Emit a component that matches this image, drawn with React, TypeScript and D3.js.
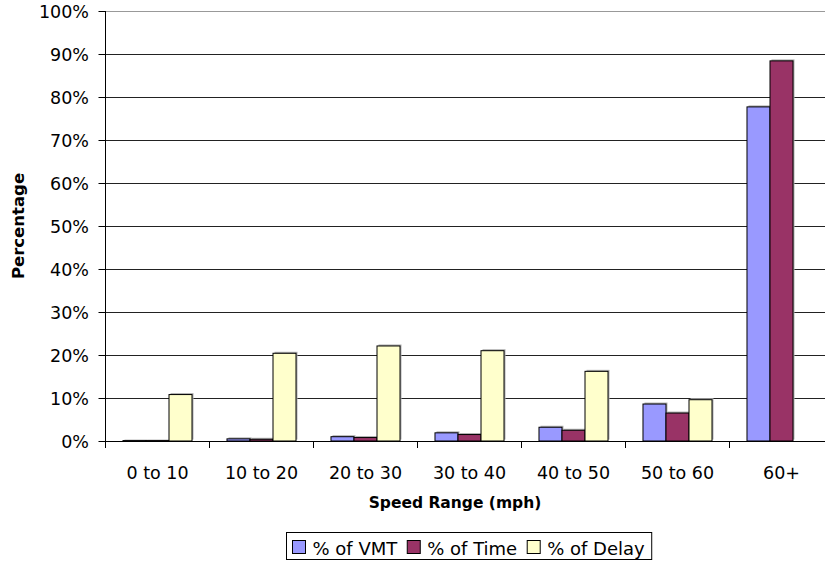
import React, { useEffect, useRef } from "react";
import * as d3 from "d3";

const categories = ["0 to 10", "10 to 20", "20 to 30", "30 to 40", "40 to 50", "50 to 60", "60+"];
const seriesNames = ["% of VMT", "% of Time", "% of Delay"];
const vmt = [0.1, 0.5, 1.0, 1.9, 3.2, 8.6, 77.7];
const time = [0.1, 0.4, 0.8, 1.5, 2.5, 6.5, 88.4];
const delay = [10.8, 20.4, 22.1, 21.0, 16.2, 9.6, 0];
const yTicks = [0, 10, 20, 30, 40, 50, 60, 70, 80, 90, 100];
const colors = ["#9999FF", "#993366", "#FFFFCC"];

const W = 825;
const H = 562;
const FONT = "'DejaVu Sans', Verdana, sans-serif";

export default function App() {
  const ref = useRef<SVGSVGElement>(null);

  useEffect(() => {
    const svg = d3.select(ref.current);
    svg.selectAll("*").remove();

    const left = 105.5;
    const right = 833.5;
    const top = 11;
    const bottom = 441;

    const x = d3.scaleBand<string>().domain(categories).range([left, right]).paddingInner(0).paddingOuter(0);
    const xs = d3.scaleBand<number>().domain([0, 1, 2]).range([0, x.bandwidth()]).paddingOuter(0.76).paddingInner(0);
    const y = d3.scaleLinear().domain([0, 100]).range([bottom, top]);

    const series = [vmt, time, delay];

    const g = svg.append("g");
    g.selectAll("line.grid")
      .data(yTicks.filter((t) => t > 0))
      .join("line")
      .attr("x1", left)
      .attr("x2", right)
      .attr("y1", (d) => Math.round(y(d)) + 0.5)
      .attr("y2", (d) => Math.round(y(d)) + 0.5)
      .attr("stroke", (d) => (d === 100 ? "#999" : "#222"))
      .attr("stroke-width", 1);

    series.forEach((vals, si) => {
      const bg = g.append("g");
      const data = vals.map((v, i) => ({ v, c: categories[i] })).filter((d) => d.v > 0);
      bg.selectAll("rect.shadow")
        .data(data)
        .join("rect")
        .attr("x", (d) => (x(d.c) as number) + (xs(si) as number) + 1.5)
        .attr("y", (d) => y(d.v) - 1.5)
        .attr("width", xs.bandwidth())
        .attr("height", (d) => bottom - y(d.v))
        .attr("fill", "#b0b0b0");
      bg.selectAll("rect.bar")
        .data(data)
        .join("rect")
        .attr("x", (d) => (x(d.c) as number) + (xs(si) as number))
        .attr("y", (d) => y(d.v))
        .attr("width", xs.bandwidth())
        .attr("height", (d) => bottom - y(d.v))
        .attr("fill", colors[si])
        .attr("stroke", "#000")
        .attr("stroke-width", 1);
    });

    g.append("line")
      .attr("x1", left).attr("x2", left)
      .attr("y1", top).attr("y2", bottom)
      .attr("stroke", "#000");
    g.append("line")
      .attr("x1", left).attr("x2", right)
      .attr("y1", bottom + 0.5).attr("y2", bottom + 0.5)
      .attr("stroke", "#000");

    g.selectAll("line.yt")
      .data(yTicks)
      .join("line")
      .attr("x1", left - 7)
      .attr("x2", left)
      .attr("y1", (d) => Math.round(y(d)) + 0.5)
      .attr("y2", (d) => Math.round(y(d)) + 0.5)
      .attr("stroke", "#000");
    g.selectAll("text.yl")
      .data(yTicks)
      .join("text")
      .attr("x", 89)
      .attr("y", (d) => y(d) + 7)
      .attr("text-anchor", "end")
      .attr("font-family", FONT)
      .attr("font-size", 17.5)
      .attr("fill", "#000")
      .text((d) => `${d}%`);

    const bounds = categories.map((c) => x(c) as number).concat([right]);
    g.selectAll("line.xt")
      .data(bounds)
      .join("line")
      .attr("x1", (d) => d)
      .attr("x2", (d) => d)
      .attr("y1", bottom)
      .attr("y2", bottom + 7)
      .attr("stroke", "#000");
    g.selectAll("text.xl")
      .data(categories)
      .join("text")
      .attr("x", (d) => (x(d) as number) + x.bandwidth() / 2)
      .attr("y", 479)
      .attr("text-anchor", "middle")
      .attr("font-family", FONT)
      .attr("font-size", 17.5)
      .attr("fill", "#000")
      .text((d) => d);

    g.append("text")
      .attr("x", 455)
      .attr("y", 508)
      .attr("text-anchor", "middle")
      .attr("font-family", FONT)
      .attr("font-weight", "bold")
      .attr("font-size", 15.5)
      .text("Speed Range (mph)");
    g.append("text")
      .attr("transform", `translate(24, ${(top + bottom) / 2}) rotate(-90)`)
      .attr("text-anchor", "middle")
      .attr("font-family", FONT)
      .attr("font-weight", "bold")
      .attr("font-size", 16.5)
      .text("Percentage");

    // legend
    const lg = svg.append("g");
    const box = lg.append("rect").attr("fill", "#fff").attr("stroke", "#000").attr("stroke-width", 1);
    let cx = 6;
    seriesNames.forEach((name, i) => {
      lg.append("rect")
        .attr("x", cx)
        .attr("y", 8)
        .attr("width", 13)
        .attr("height", 13)
        .attr("fill", colors[i])
        .attr("stroke", "#000");
      const t = lg.append("text")
        .attr("x", cx + 20)
        .attr("y", 22)
        .attr("font-family", FONT)
        .attr("font-size", 18)
        .attr("fill", "#000")
        .text(name);
      const tw = (t.node() as SVGTextElement).getComputedTextLength();
      cx += 20 + tw + (i < seriesNames.length - 1 ? 10 : 7);
    });
    box.attr("x", 0).attr("y", 0).attr("width", cx).attr("height", 27);
    const lx = 468.5 - cx / 2;
    lg.attr("transform", `translate(${Math.round(lx) + 0.5}, 532.5)`);
  }, []);

  return (
    <svg
      ref={ref}
      width={W}
      height={H}
      style={{ position: "absolute", left: 0, top: 0, background: "#fff" }}
    />
  );
}
